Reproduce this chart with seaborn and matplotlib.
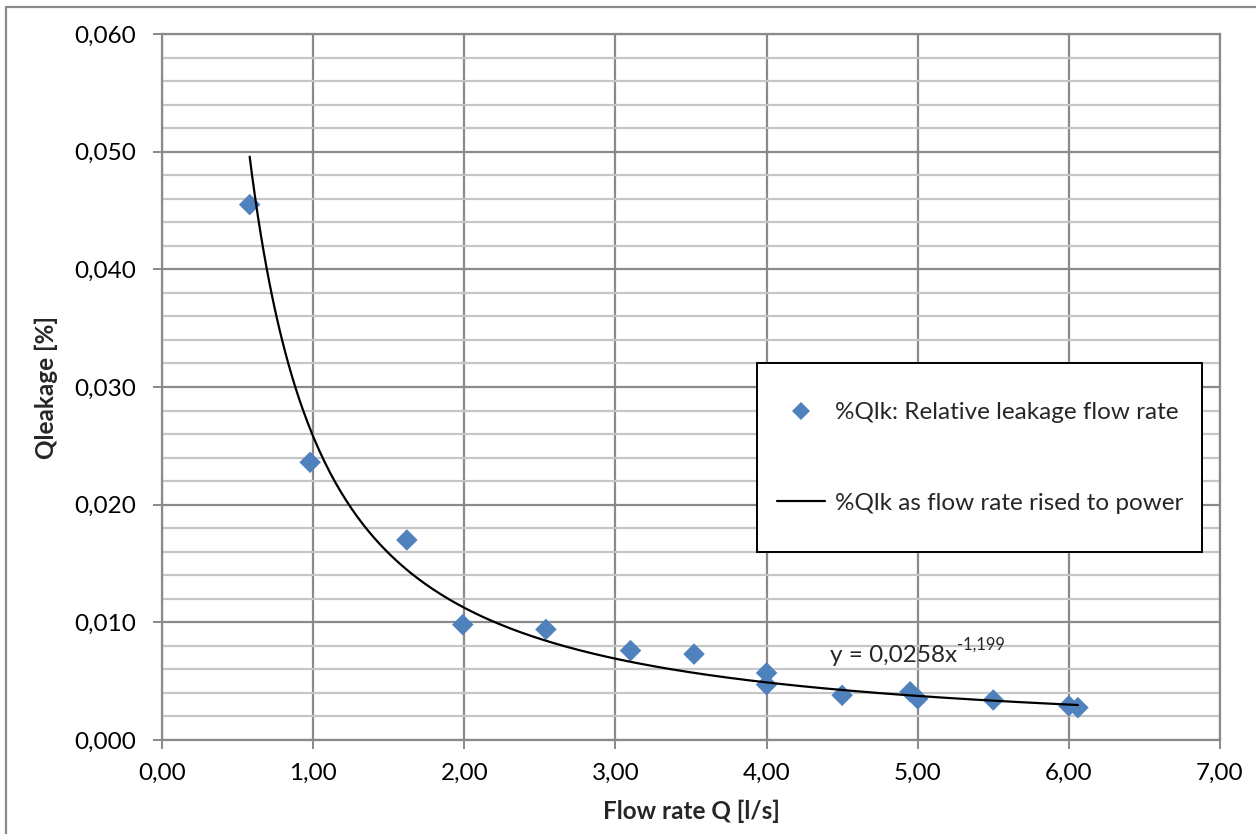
import numpy as np
import pandas as pd
import matplotlib
matplotlib.use("Agg")
import matplotlib.pyplot as plt
from matplotlib.lines import Line2D
from matplotlib.patches import Rectangle
from matplotlib.ticker import FixedLocator, FuncFormatter
import seaborn as sns

# ---- data ----
flow_rate = [0.58, 0.98, 1.62, 1.99, 2.54, 3.10, 3.52, 4.00, 4.00, 4.50, 4.95, 5.00, 5.50, 6.00, 6.06]
leakage = [0.0455, 0.0236, 0.0170, 0.0098, 0.0094, 0.0076, 0.0073, 0.0057, 0.0047,
           0.0038, 0.0041, 0.0035, 0.0034, 0.0029, 0.00275]
trend_coef = 0.0258
trend_exp = -1.199
x_ticks = [0, 1, 2, 3, 4, 5, 6, 7]
y_ticks = [0.0, 0.01, 0.02, 0.03, 0.04, 0.05, 0.06]
y_minor = [0.002, 0.004, 0.006, 0.008, 0.012, 0.014, 0.016, 0.018, 0.022, 0.024, 0.026, 0.028,
           0.032, 0.034, 0.036, 0.038, 0.042, 0.044, 0.046, 0.048, 0.052, 0.054, 0.056, 0.058]
series_label = "%Qlk: Relative leakage flow rate"
trend_label = "%Qlk as flow rate rised to power"
x_title = "Flow rate Q [l/s]"
y_title = "Qleakage [%]"

sns.set_theme(style="white")
plt.rcParams["font.family"] = ["Lato", "DejaVu Sans"]

W, H = 1256, 834
fig = plt.figure(figsize=(W / 100, H / 100), dpi=100)
ax = fig.add_axes([162 / W, 1 - 740 / H, (1220 - 162) / W, (740 - 34) / H])

major_c = "#8a8a8a"
minor_c = "#c6c6c6"
fs = 17.5

ax.set_xlim(0, 7)
ax.set_ylim(0, 0.06)
ax.xaxis.set_major_locator(FixedLocator(x_ticks))
ax.yaxis.set_major_locator(FixedLocator(y_ticks))
ax.yaxis.set_minor_locator(FixedLocator(y_minor))
ax.xaxis.set_major_formatter(FuncFormatter(lambda v, p: f"{v:.2f}".replace(".", ",")))
ax.yaxis.set_major_formatter(FuncFormatter(lambda v, p: f"{v:.3f}".replace(".", ",")))

ax.grid(which="minor", axis="y", color=minor_c, lw=1.6, zorder=0)
ax.grid(which="major", axis="both", color=major_c, lw=1.6, zorder=0.5)
ax.set_axisbelow(True)
for s in ax.spines.values():
    s.set_color(major_c)
    s.set_linewidth(1.6)

ax.tick_params(axis="both", which="major", direction="out", length=6.5, width=1.4,
               color=major_c, labelsize=fs, labelcolor="black")
ax.tick_params(axis="y", which="major", pad=12)
ax.tick_params(axis="x", which="major", pad=10)
ax.tick_params(which="minor", length=0)
ax.tick_params(axis="both", which="major", bottom=True, left=True)

# scatter points
df = pd.DataFrame({"q": flow_rate, "lk": leakage})
sns.scatterplot(data=df, x="q", y="lk", marker="D", color="#4F81BD", s=120,
                edgecolor="none", linewidth=0, ax=ax, zorder=3, legend=False)

# power trendline
xt = np.linspace(min(flow_rate), max(flow_rate), 300)
tdf = pd.DataFrame({"q": xt, "lk": trend_coef * xt ** trend_exp})
sns.lineplot(data=tdf, x="q", y="lk", color="black", lw=1.6, ax=ax, zorder=4,
             sort=False, estimator=None, legend=False)

ax.set_xlabel(x_title, fontsize=fs, fontweight="bold", labelpad=11)
ax.set_ylabel(y_title, fontsize=fs, fontweight="bold", labelpad=12)

# equation label
eq = ax.text(4.42, 0.00665, "y = " + f"{trend_coef:.4f}".replace(".", ",") + "x",
             fontsize=fs, ha="left", va="baseline", zorder=5)
ax.annotate(f"{trend_exp:.3f}".replace(".", ","), xy=(1.0, 0.62), xycoords=eq,
            fontsize=fs * 0.68, ha="left", va="bottom", zorder=5)

# legend box
fig.patches.append(Rectangle((757 / W, 1 - 552 / H), (1202 - 757) / W, (552 - 363) / H,
                             transform=fig.transFigure, facecolor="white",
                             edgecolor="black", lw=1.4, zorder=10))
handles = [Line2D([], [], marker="D", ls="none", color="#4F81BD", markersize=9.5,
                  markeredgewidth=0),
           Line2D([], [], color="black", lw=1.6)]
leg = fig.legend(handles, [series_label, trend_label], loc="center left",
                 bbox_to_anchor=(765 / W, 1 - 458 / H), frameon=False, fontsize=fs,
                 handlelength=1.95, handletextpad=0.42, labelspacing=2.86,
                 borderpad=0.0)
leg.set_zorder(11)

# outer chart border (left and top edges visible)
fig.add_artist(Line2D([6 / W, 6 / W], [0, 1 - 7 / H], transform=fig.transFigure,
                      color=major_c, lw=1.6))
fig.add_artist(Line2D([6 / W, 1], [1 - 7 / H, 1 - 7 / H], transform=fig.transFigure,
                      color=major_c, lw=1.6))

fig.savefig("out.png", dpi=100)
